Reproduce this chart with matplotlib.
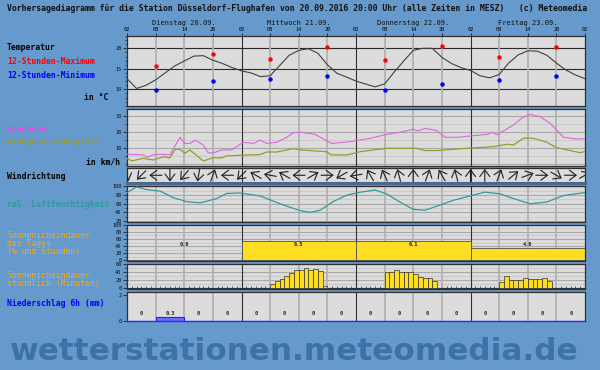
import math
import matplotlib
matplotlib.use('Agg')
import matplotlib.pyplot as plt
from matplotlib.patches import FancyArrowPatch
from matplotlib.ticker import MultipleLocator, FixedLocator

# ---------------- data ----------------
day_labels = ["Dienstag 20.09.", "Mittwoch 21.09.", "Donnerstag 22.09.", "Freitag 23.09."]
hour_tick_labels = ["02", "08", "14", "20"] * 4 + ["02"]

temp_hours = list(range(0, 97, 2))
temp_values = [12.6, 10.2, 11.0, 12.3, 14.0, 15.7, 16.9, 18.1, 18.2, 17.1, 16.3, 15.3, 14.5,
               14.0, 13.1, 13.3, 15.8, 18.3, 19.5, 19.9, 18.8, 16.0, 13.9, 13.0, 12.0,
               11.3, 10.6, 11.3, 14.2, 16.9, 19.5, 20.0, 20.0, 17.8, 16.3, 15.3, 14.6,
               13.3, 12.8, 13.6, 16.4, 18.4, 19.4, 19.3, 18.3, 16.4, 14.7, 13.5, 12.6]
ext_hours = [6, 18, 30, 42, 54, 66, 78, 90]
tmax_values = [15.7, 18.5, 17.5, 20.2, 17.2, 20.5, 18.0, 20.2]
tmin_values = [9.8, 12.0, 12.4, 13.2, 9.9, 11.2, 12.2, 13.2]

gust_hours = [0, 3.4, 4.1, 5.5, 7, 9, 11.1, 12.1, 13.2, 14.3, 16, 17, 18, 19.8, 21.9, 24.4,
              26.5, 27.9, 29.3, 31.4, 33.5, 34.9, 36.3, 39.4, 42.9, 46.8, 48.2, 51, 54.4,
              57, 60, 61, 62.5, 64.9, 66.7, 69.1, 72, 75.5, 76.5, 77.5, 78.9, 81, 82.7,
              84.5, 86.6, 88.7, 91.5, 94.3, 96]
gust_values = [6.3, 6.0, 4.4, 6.0, 6.3, 6.0, 16.8, 13.0, 13.0, 15.0, 12.0, 7.3, 7.0, 9.0, 9.0,
               13.7, 13.0, 15.1, 13.0, 13.7, 16.8, 19.6, 20.0, 18.6, 13.0, 14.1, 14.8, 16.2,
               18.6, 19.8, 21.7, 20.8, 22.3, 21.0, 16.8, 16.8, 17.6, 18.6, 19.8, 18.4, 20.7,
               24.4, 28.5, 31.0, 29.5, 25.4, 16.8, 15.7, 16.0]

wind_hours = [0, 1, 3.4, 5.5, 7.6, 9, 10.1, 11.1, 12.1, 13.2, 16, 18, 19.8, 20.9, 23.7, 27.9,
              29.3, 31.4, 34.9, 36.3, 41.8, 42.9, 46.1, 48.9, 54.4, 60.7, 62.5, 65, 71.2,
              76.8, 79.6, 81, 83.1, 85.2, 88, 90.1, 92.2, 95, 96]
wind_values = [3.8, 2.2, 3.8, 2.8, 4.8, 4.1, 9.4, 9.4, 6.9, 9.0, 2.2, 4.1, 4.1, 5.3, 5.7, 6.1,
               7.7, 7.7, 9.8, 9.0, 7.9, 5.9, 5.9, 7.9, 10.0, 10.0, 8.6, 8.6, 10.0, 11.0,
               12.5, 12.0, 16.2, 16.2, 13.7, 10.4, 9.0, 7.3, 8.0]

wdir_hours = list(range(0, 97, 3))
wdir_from_deg = [345, 45, 90, 0, 40, 10, 200, 90, 45, 120, 100, 120, 90, 240, 270, 60, 80,
                 150, 155, 165, 180, 200, 150, 165, 180, 180, 200, 230, 250, 270, 300, 270, 240]

hum_hours = [0, 2, 4, 7, 9.7, 12.5, 15.3, 18.8, 20.9, 23.7, 27.9, 32.8, 36.3, 38.4, 40.5,
             43.2, 46.1, 48.5, 52, 54.4, 57.2, 60, 62.5, 65.6, 68.4, 71.9, 75, 78.2, 81,
             84.5, 88, 91.5, 96]
hum_values = [86, 99, 93, 89, 74, 65, 62, 72, 84, 85, 78, 57, 44, 40, 45, 65, 80, 86, 92, 83,
              64, 47, 45, 57, 68, 78, 87, 83, 72, 60, 64, 79, 86]

sun_day_start = [0, 24, 48, 72]
sun_day_pct = [0, 54, 53, 34]
sun_day_hours = [0.0, 6.5, 6.1, 4.0]

sun_wed_start, sun_wed = 30, [10, 18, 22, 31, 37, 45, 45, 49, 45, 47, 43, 4]
sun_thu_start, sun_thu = 54, [39, 39, 45, 39, 39, 39, 34, 28, 26, 26, 17]
sun_fri_start, sun_fri = 78, [16, 30, 20, 20, 20, 24, 22, 22, 22, 24, 17]

prec_start = list(range(0, 96, 6))
prec_values = [0, 0.3, 0, 0, 0, 0, 0, 0, 0, 0, 0, 0, 0, 0, 0, 0]

# ---------------- style ----------------
BG = '#6699cc'
PANEL = '#dcdcdc'
FRAME = '#303030'
VGRID = '#b2b2b2'
WMARK = '#3c72a8'
MONO = 'DejaVu Sans Mono'
W, H = 600, 370
X0, X1 = 127, 585

fig = plt.figure(figsize=(W / 100, H / 100), dpi=100)
fig.patch.set_facecolor(BG)


def vlines(ax):
    for d in range(4):
        for k in (6, 12, 18):
            ax.axvline(d * 24 + k, color=VGRID, lw=1.3, zorder=0.6)
        if d > 0:
            ax.axvline(d * 24, color=FRAME, lw=0.8, zorder=0.7)


def panel(top, bottom, ylim):
    ax = fig.add_axes([X0 / W, 1 - bottom / H, (X1 - X0) / W, (bottom - top) / H])
    ax.set_facecolor(PANEL)
    ax.set_xlim(0, 96)
    ax.set_ylim(*ylim)
    ax.set_axisbelow(True)
    for s in ax.spines.values():
        s.set_color(FRAME)
        s.set_linewidth(0.9)
    ax.set_xticks([])
    ax.tick_params(axis='y', labelsize=3.8, length=3, width=0.5, pad=1, colors='#111111')
    ax.tick_params(axis='y', which='minor', length=1.5, width=0.4)
    vlines(ax)
    return ax


def hgrid(ax, major, minor=None, color='#a8a8a8', lw=0.8):
    lo, hi = ax.get_ylim()
    if minor:
        v = 0
        while v <= hi:
            if v >= lo:
                ax.axhline(v, color='#c4c4c4', lw=0.5, zorder=0.5)
            v += minor
    v = 0
    while v <= hi:
        if v >= lo:
            ax.axhline(v, color=color, lw=lw, zorder=0.55)
        v += major


def set_mono(ax):
    for lab in ax.get_yticklabels() + ax.get_xticklabels():
        lab.set_family(MONO)


# temperature
ax_t = panel(36, 106, (5.93, 23.0))
ax_t.yaxis.set_major_locator(FixedLocator([10, 15, 20]))
ax_t.yaxis.set_minor_locator(MultipleLocator(1))
hgrid(ax_t, 5, None, color='#2a2a2a', lw=0.8)
ax_t.plot(temp_hours, temp_values, color='#404040', lw=0.8, zorder=3)
ax_t.plot(ext_hours, tmax_values, ls='none', marker='o', ms=2.2, color='#ff0000', zorder=4)
ax_t.plot(ext_hours, tmin_values, ls='none', marker='o', ms=2.2, color='#0000ff', zorder=4)
ax_t.xaxis.tick_top()
ax_t.set_xticks(list(range(0, 97, 6)))
ax_t.set_xticklabels(hour_tick_labels)
ax_t.tick_params(axis='x', labelsize=3.8, length=2, width=0.5, pad=1)
set_mono(ax_t)

# wind
ax_w = panel(109, 166, (-0.93, 34.26))
ax_w.yaxis.set_major_locator(FixedLocator([10, 20, 30]))
ax_w.yaxis.set_minor_locator(MultipleLocator(5))
hgrid(ax_w, 10, 5)
ax_w.plot(gust_hours, gust_values, color='#dd66dd', lw=0.8, zorder=3)
ax_w.plot(wind_hours, wind_values, color='#999933', lw=0.9, zorder=3)
set_mono(ax_w)

# wind direction
top_d, bot_d = 167.5, 183
ax_d = fig.add_axes([X0 / W, 1 - bot_d / H, (X1 - X0) / W, (bot_d - top_d) / H])
ax_d.set_facecolor(PANEL)
ax_d.set_xticks([]); ax_d.set_yticks([])
for s in ax_d.spines.values():
    s.set_color(FRAME); s.set_linewidth(0.9)
ax_d.spines['bottom'].set_color('#4a6890'); ax_d.spines['bottom'].set_linewidth(2.2)
hpx = 96 / (X1 - X0)
ax_d.set_xlim(0, 96)
ax_d.set_ylim(0, (bot_d - top_d) * hpx)
vlines(ax_d)
yc = (bot_d - top_d) * hpx / 2
L = 6.3 * hpx
for hh, dd in zip(wdir_hours, wdir_from_deg):
    dx = -math.sin(math.radians(dd)); dy = -math.cos(math.radians(dd))
    p = FancyArrowPatch((hh - dx * L, yc - dy * L), (hh + dx * L, yc + dy * L),
                        arrowstyle='->,head_length=0.6,head_width=0.45', mutation_scale=8,
                        lw=0.8, color='#1e1e1e', shrinkA=0, shrinkB=0, zorder=3)
    ax_d.add_patch(p)

# humidity
ax_h = panel(185.5, 221.5, (18.86, 102.3))
ax_h.yaxis.set_major_locator(FixedLocator([20, 40, 60, 80, 100]))
ax_h.yaxis.set_minor_locator(MultipleLocator(10))
hgrid(ax_h, 20, 10)
ax_h.plot(hum_hours, hum_values, color='#339999', lw=0.9, zorder=3)
set_mono(ax_h)

# sunshine daily
ax_sd = panel(224.5, 260.5, (-1.4, 101.4))
ax_sd.yaxis.set_major_locator(FixedLocator([0, 20, 40, 60, 80, 100]))
ax_sd.yaxis.set_minor_locator(MultipleLocator(10))
hgrid(ax_sd, 20, 10)
ax_sd.bar(sun_day_start, sun_day_pct, width=24, align='edge', bottom=0,
          color='#ffdd22', edgecolor='#505050', lw=0.6, zorder=2)
for s0, hv in zip(sun_day_start, sun_day_hours):
    ax_sd.text(s0 + 12, 43, f"{hv:.1f}", ha='center', va='center', fontsize=3.8,
               family=MONO, fontweight='bold', color='#222222', zorder=4)
set_mono(ax_sd)

# sunshine hourly
ax_sh = panel(263.5, 288.5, (-1.25, 61.25))
ax_sh.yaxis.set_major_locator(FixedLocator([0, 20, 40, 60]))
ax_sh.yaxis.set_minor_locator(MultipleLocator(10))
hgrid(ax_sh, 20, 10)
for st, vals in ((sun_wed_start, sun_wed), (sun_thu_start, sun_thu), (sun_fri_start, sun_fri)):
    ax_sh.bar([st + i for i in range(len(vals))], vals, width=1, align='edge',
              color='#ffdd22', edgecolor='#333333', lw=0.5, zorder=2)
ax_sh.axhline(0, color=FRAME, lw=0.8, zorder=0.9)
ax_sh.set_xticks(range(1, 96), minor=True)
ax_sh.tick_params(axis='x', which='minor', direction='in', length=2, width=0.5, color='#222222')
set_mono(ax_sh)

# precipitation
ax_p = panel(291.5, 321, (0, 2.27))
ax_p.yaxis.set_major_locator(FixedLocator([0, 2]))
ax_p.bar(prec_start, prec_values, width=6, align='edge', color='#6f6fff',
         edgecolor='#2222ff', lw=0.8, zorder=2)
for s0, pv in zip(prec_start, prec_values):
    ax_p.text(s0 + 3, 0.6, f"{pv:g}", ha='center', va='center', fontsize=3.8,
              family=MONO, fontweight='bold', color='#222222', zorder=4)
ax_p.spines['bottom'].set_color('#2a2aff')
ax_p.spines['bottom'].set_linewidth(1.0)
set_mono(ax_p)


# ---------------- texts ----------------
def ftext(x, y, s, **kw):
    kw.setdefault('family', MONO)
    kw.setdefault('fontsize', 5.9)
    kw.setdefault('fontweight', 'bold')
    kw.setdefault('va', 'center')
    return fig.text(x / W, 1 - y / H, s, **kw)


ftext(7, 8.5, "Vorhersagediagramm für die Station Düsseldorf-Flughafen von 20.09.2016 "
      "20:00 Uhr (alle Zeiten in MESZ)   (c) Meteomedia", color='#111111', fontsize=5.9)
for i, lab in enumerate(day_labels):
    ftext(X0 + (i + 0.5) * (X1 - X0) / 4, 23.3, lab, fontsize=5.0, fontweight='normal',
          ha='center', color='#111111')

ftext(7, 47.7, "Temperatur", color='#000000')
ftext(7, 61.7, "12-Stunden-Maximum", color='#ff0000')
ftext(7, 76, "12-Stunden-Minimum", color='#0000ff')
ftext(108, 97.3, "in °C", ha='right', color='#000000')
ftext(7, 129, "Windböen", color='#e050e0')
ftext(7, 141.7, "Windgeschwindigkeit", color='#999933')
ftext(120, 162, "in km/h", ha='right', color='#000000')
ftext(7, 176.7, "Windrichtung", color='#000000')
ftext(7, 204.3, "rel. Luftfeuchtigkeit", color='#2f9a9a')
ftext(7, 243.7, "Sonnenscheindauer\ndes Tages\n(% und Stunden)", color='#ffaa00',
      fontweight='normal', linespacing=0.82)
ftext(7, 279.2, "Sonnenscheindauer\nstündlich (Minuten)", color='#ffaa00',
      fontweight='normal', linespacing=0.82)
ftext(7, 304, "Niederschlag 6h (mm)", color='#0000ff')

wm = fig.text(294 / W, 1 - 352 / H, "wetterstationen.meteomedia.de", fontsize=22,
              fontweight='bold', family='DejaVu Sans', color=WMARK, ha='center', va='center')
fig.canvas.draw()
bb = wm.get_window_extent()
wm.set_fontsize(22 * 566 / bb.width)

fig.savefig('out.png', dpi=100, facecolor=BG)
